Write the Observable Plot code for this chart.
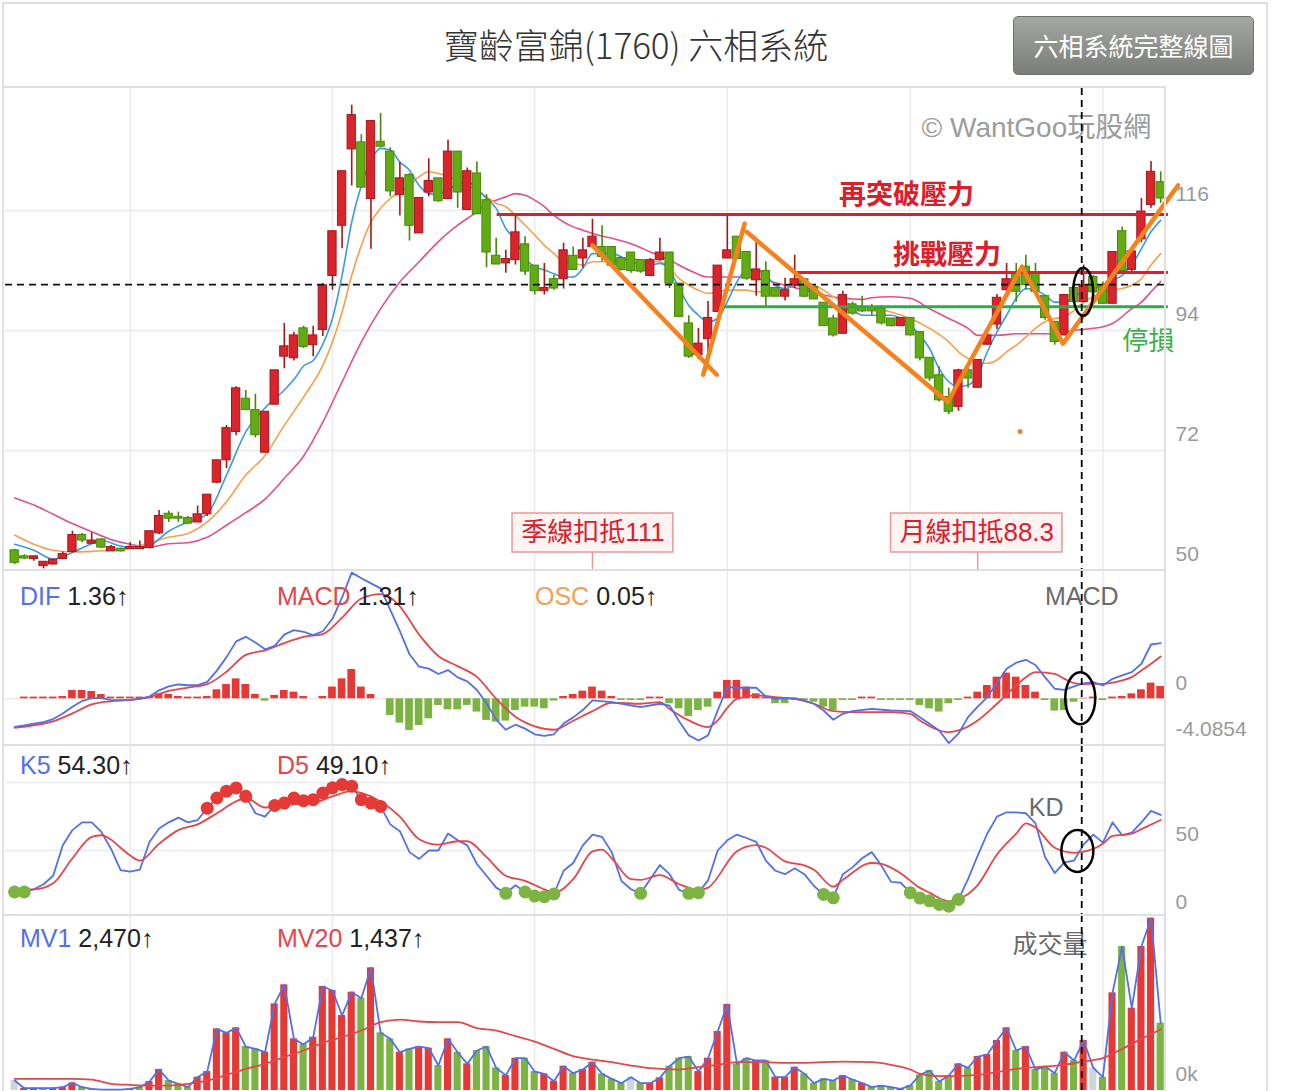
<!DOCTYPE html>
<html><head><meta charset="utf-8">
<script src="https://cdn.jsdelivr.net/npm/d3@7"></script>
<script src="https://cdn.jsdelivr.net/npm/@observablehq/plot@0.6"></script>
<style>
body{margin:0;background:#fff;font-family:"Liberation Sans","Noto Sans CJK TC",sans-serif;}
#wrap{position:relative;width:1304px;height:1091px;overflow:hidden;background:#fff;}
.panel{position:absolute;left:0;}
.ln{position:absolute;background:#e0e0e0;}
.hdr{position:absolute;font-size:25px;line-height:32px;color:#222;white-space:nowrap;}
#title{position:absolute;left:0;width:1272px;top:24px;line-height:40px;text-align:center;font-size:35px;color:#333;font-weight:300;font-family:"Noto Sans CJK TC","Liberation Sans",sans-serif;}
#btn{position:absolute;left:1013px;top:16px;width:239px;height:57px;line-height:57px;text-align:center;color:#fff;font-size:25px;border:1px solid #6f726d;border-radius:5px;background:linear-gradient(#a4a7a2,#7a7d78);font-family:"Noto Sans CJK TC",sans-serif;}
</style></head><body>
<div id="wrap">
  <div class="ln" style="left:2px;top:2px;width:1266px;height:2px"></div>
  <div class="ln" style="left:2px;top:2px;width:2px;height:1089px"></div>
  <div class="ln" style="left:1266px;top:2px;width:2px;height:1089px"></div>
  <div id="title">寶齡富錦(1760) 六相系統</div>
  <div id="btn">六相系統完整線圖</div>
  <div id="p1" class="panel" style="top:88px"></div>
  <div id="p2" class="panel" style="top:570px"></div>
  <div id="p3" class="panel" style="top:745px"></div>
  <div id="p4" class="panel" style="top:915px"></div>
  <div class="ln" style="left:3px;top:86px;width:1162px;height:2px"></div>
  <div class="ln" style="left:3px;top:569px;width:1162px;height:2px"></div>
  <div class="ln" style="left:3px;top:744px;width:1162px;height:2px"></div>
  <div class="ln" style="left:3px;top:914px;width:1162px;height:2px"></div>
  <div class="ln" style="left:1164px;top:86px;width:2px;height:1005px"></div>
  <div class="hdr" style="left:20px;top:580px"><span style="color:#5470e6">DIF</span> 1.36↑</div>
  <div class="hdr" style="left:277px;top:580px"><span style="color:#e3474b">MACD</span> 1.31↑</div>
  <div class="hdr" style="left:535px;top:580px"><span style="color:#f2a154">OSC</span> 0.05↑</div>
  <div class="hdr" style="left:20px;top:749px"><span style="color:#5470e6">K5</span> 54.30↑</div>
  <div class="hdr" style="left:277px;top:749px"><span style="color:#e3474b">D5</span> 49.10↑</div>
  <div class="hdr" style="left:20px;top:922px"><span style="color:#5470e6">MV1</span> 2,470↑</div>
  <div class="hdr" style="left:277px;top:922px"><span style="color:#e3474b">MV20</span> 1,437↑</div>
</div>
<script>
// ---------- data ----------
const open = [53.7,52.6,52.1,50.8,51.1,52.1,53.4,56.5,54.9,55.7,
 53.5,54.0,53.9,53.9,54.1,56.8,60.4,59.8,59.6,58.8,
 60.3,66.1,70.2,75.4,81.5,79.4,71.6,80.4,89.2,88.9,
 94.4,91.3,94.1,104.0,113.2,127.2,128.5,118.1,128.6,126.8,
 118.8,122.5,111.8,119.3,121.9,118.1,126.8,116.1,122.8,117.9,
 107.7,106.3,106.9,109.8,105.9,101.2,103.4,103.4,107.7,107.2,
 109.3,109.3,109.3,107.3,108.3,106.9,104.0,106.9,108.3,102.6,
 95.3,89.5,92.4,97.4,107.2,111.2,108.4,103.2,104.9,101.8,
 100.2,102.3,103.4,102.0,99.1,96.2,93.4,98.8,98.3,98.3,
 98.0,96.2,94.8,96.3,93.7,89.0,85.8,81.8,80.0,86.7,
 83.5,91.4,95.1,101.4,104.3,105.7,104.6,100.3,95.6,93.1,
 101.8,99.2,103.8,102.3,98.9,112.2,105.1,110.7,117.0,121.2];
const high = [53.9,52.9,52.6,51.6,52.0,53.4,57.2,56.8,56.9,55.8,
 54.6,54.1,55.1,55.4,57.2,61.0,60.9,60.7,59.9,61.8,
 63.9,70.2,76.6,83.7,83.0,82.3,79.1,86.7,95.3,93.7,
 94.8,94.8,102.6,112.2,123.2,135.3,129.9,132.4,133.8,127.5,
 124.8,122.8,118.3,125.5,121.9,128.9,126.8,123.8,124.9,118.9,
 110.9,108.7,114.9,111.2,105.9,106.3,104.1,110.0,109.3,110.9,
 114.4,113.2,109.3,107.5,108.3,106.9,107.2,110.9,108.3,102.6,
 96.7,94.4,99.3,105.9,115.4,111.2,108.4,110.1,106.6,101.8,
 103.6,107.8,103.4,102.0,99.1,96.8,101.2,99.2,100.3,98.8,
 98.6,96.2,96.3,96.3,93.7,89.0,87.3,83.4,86.9,87.0,
 88.6,93.9,100.6,106.3,106.3,107.8,106.3,100.3,95.6,100.5,
 102.3,106.0,104.1,102.9,108.4,113.0,109.3,118.2,125.0,123.1];
const low = [51.1,52.0,51.7,50.3,51.0,52.1,53.2,55.1,54.9,54.0,
 53.5,53.4,53.9,53.9,54.1,56.6,58.8,58.8,58.4,58.8,
 59.9,65.9,68.7,74.7,79.4,74.3,71.6,80.4,87.0,88.4,
 90.7,89.2,92.9,101.4,109.0,120.5,120.2,108.9,127.5,118.5,
 115.0,110.4,111.8,118.5,117.5,118.1,116.4,116.1,115.3,105.5,
 106.1,104.5,106.0,104.1,100.5,100.5,101.4,101.6,105.1,105.4,
 109.2,106.6,105.9,104.9,104.5,104.5,104.0,106.7,101.7,96.5,
 88.9,88.7,89.0,97.3,107.2,107.1,103.2,100.3,98.3,100.2,
 99.4,101.7,100.0,99.7,94.8,92.8,93.4,96.8,97.3,96.8,
 95.0,94.7,94.8,93.0,88.4,84.7,80.9,78.6,79.2,83.4,
 83.5,91.3,94.2,101.0,99.2,101.4,101.1,95.9,91.3,93.0,
 99.2,99.1,99.0,98.8,98.9,104.9,104.6,110.1,116.4,117.3];
const close = [51.4,52.2,52.6,51.6,52.0,53.0,56.5,55.5,55.5,54.2,
 54.3,53.5,54.3,54.3,57.2,60.0,59.5,59.5,58.6,60.3,
 63.9,70.2,76.1,83.4,79.4,74.8,79.1,86.7,91.1,93.1,
 91.0,93.1,102.3,112.2,123.2,133.5,120.2,132.4,127.7,119.5,
 121.9,113.2,118.3,121.4,117.7,126.8,119.3,123.2,115.3,108.3,
 106.1,107.1,112.0,104.8,101.2,101.8,101.7,108.7,105.1,108.7,
 111.2,107.5,105.9,105.1,104.9,104.8,106.9,108.3,102.6,96.5,
 89.2,91.6,96.3,105.9,108.7,107.1,103.5,105.2,100.2,100.2,
 101.4,103.4,100.2,99.7,94.8,93.1,100.5,97.1,97.5,97.5,
 95.3,94.8,96.3,93.1,88.9,85.2,81.2,79.1,86.7,85.2,
 88.6,93.1,100.0,103.4,101.1,102.3,101.1,96.3,91.9,100.5,
 99.2,102.3,101.0,98.9,108.4,104.9,108.5,115.8,123.1,118.2];

// moving averages read at sampled days: [day, value]
const ma5 = [[0,54.8],[2,53.7],[4,52.1],[6,53.3],[8,54.9],[9,55.5],[11,54.5],[13,54.1],[14,54.5],[16,57.2],[18,58.9],[20,60.4],[22,67.5],[24,75.4],[26,79.8],[28,83.1],[29,85.0],[30,87.5],[31,88.5],[32,91.5],[33,96.2],[34,104.1],[35,113.9],[36,120.6],[37,125.2],[38,127.4],[39,127.1],[40,124.9],[41,123.4],[42,120.6],[43,119.1],[44,118.9],[45,120.0],[46,120.6],[47,121.3],[48,120.0],[49,118.2],[50,116.4],[51,112.7],[52,110.6],[53,107.2],[54,105.7],[55,105.1],[56,104.4],[57,103.8],[58,103.8],[59,105.4],[60,108.1],[62,108.1],[64,106.6],[66,106.0],[67,106.3],[68,105.1],[69,101.7],[70,98.6],[71,96.8],[72,95.6],[73,96.2],[74,99.3],[75,102.9],[76,105.1],[77,105.1],[78,104.1],[79,102.3],[80,101.7],[81,102.3],[82,102.0],[83,101.1],[84,99.9],[85,98.3],[86,98.0],[87,97.7],[88,96.8],[89,96.8],[91,96.8],[93,95.0],[94,93.1],[95,90.7],[96,87.0],[97,84.6],[98,83.7],[99,84.0],[100,85.8],[101,90.1],[102,93.7],[103,96.8],[104,99.9],[105,101.7],[106,101.4],[107,100.5],[108,99.2],[109,99.2],[110,100.2],[111,101.1],[112,101.7],[113,102.3],[114,103.2],[115,104.1],[116,106.0],[117,109.0],[118,112.1],[119,114.2]];
const ma10 = [[0,56.5],[2,54.8],[4,53.7],[6,53.4],[8,53.5],[10,53.7],[12,54.1],[14,55.1],[16,56.1],[18,56.8],[20,58.9],[22,62.6],[24,67.5],[26,71.1],[28,76.6],[30,81.8],[32,87.6],[33,91.9],[34,97.4],[35,104.1],[36,109.6],[37,113.9],[38,116.4],[39,118.2],[40,119.4],[41,120.6],[42,122.2],[43,123.1],[44,122.8],[45,122.2],[46,121.6],[47,120.6],[48,119.7],[49,118.5],[50,117.3],[51,116.7],[52,115.1],[53,113.3],[54,111.5],[55,109.6],[56,108.1],[57,106.6],[58,106.3],[59,106.0],[60,106.6],[62,106.6],[64,107.2],[66,106.6],[67,106.6],[68,105.4],[69,103.5],[70,102.3],[71,101.4],[72,100.8],[73,101.1],[74,101.4],[75,101.4],[76,101.4],[77,101.1],[78,101.1],[79,100.8],[80,101.4],[81,102.3],[82,102.6],[83,102.3],[84,101.4],[85,100.2],[86,99.3],[87,98.6],[88,98.5],[89,98.2],[91,97.4],[93,96.2],[95,94.4],[97,91.9],[98,90.1],[99,88.9],[100,88.1],[101,88.0],[102,88.6],[103,90.1],[104,91.3],[105,92.8],[106,94.4],[107,95.6],[108,96.2],[109,96.5],[110,97.7],[111,99.2],[112,100.2],[113,101.1],[114,101.4],[115,101.7],[116,102.3],[117,103.5],[118,106.0],[119,108.1]];
const ma20 = [[0,63.3],[2,62.0],[4,60.3],[6,58.6],[8,57.1],[10,55.7],[12,54.8],[14,54.3],[16,54.9],[18,55.1],[20,56.1],[22,58.3],[24,60.6],[26,63.1],[28,66.9],[30,71.0],[32,77.2],[34,84.6],[36,91.9],[38,98.0],[40,102.9],[42,106.6],[44,110.3],[46,113.3],[48,115.8],[49,117.3],[50,117.9],[51,118.5],[52,119.1],[53,118.8],[54,117.9],[55,116.7],[56,115.1],[57,113.9],[58,113.0],[59,112.4],[60,111.8],[62,110.9],[64,109.9],[66,108.4],[68,106.9],[70,105.1],[72,103.8],[74,103.8],[76,103.8],[78,103.2],[80,102.3],[82,101.4],[84,100.5],[86,99.9],[88,99.7],[89,100.0],[91,100.2],[93,99.9],[95,98.0],[97,96.2],[99,94.4],[100,93.1],[102,93.1],[104,93.4],[106,93.4],[108,93.4],[110,94.0],[112,94.4],[113,94.7],[114,95.3],[116,98.0],[117,99.2],[118,101.1],[119,103.0]];

// MACD panel
const dif = [[0,-2.5],[1,-2.37],[2,-2.2],[3,-2.07],[4,-1.8],[5,-1.3],[6,-0.7],[7,-0.2],[8,0.05],[9,0.06],[10,-0.1],[11,-0.12],[12,-0.1],[13,0],[14,0.2],[15,0.75],[16,1.1],[17,1.27],[18,1.2],[19,1.22],[20,1.5],[21,2.5],[22,3.7],[23,5.1],[24,5.5],[25,5.0],[26,4.4],[27,4.7],[28,5.7],[29,6.1],[30,5.95],[31,5.65],[32,6.0],[33,7.1],[34,9.0],[35,11.2],[36,10.7],[37,10.25],[38,9.8],[39,7.9],[40,6.0],[41,3.95],[42,2.85],[43,2.68],[44,2.2],[45,2.55],[46,1.9],[47,1.55],[48,0.78],[49,-0.4],[50,-1.85],[51,-2.75],[52,-2.3],[53,-2.65],[54,-3.15],[55,-3.3],[56,-3.15],[57,-2.2],[58,-1.65],[59,-1.0],[60,-0.15],[62,-0.3],[65,-0.74],[67,-0.44],[68,-0.6],[69,-2.0],[70,-3.25],[71,-3.7],[72,-3.25],[73,-1.04],[74,1.03],[75,0.98],[77,0.98],[78,0.21],[79,0.0],[81,0.06],[82,-0.15],[83,-0.44],[84,-1.04],[85,-1.86],[86,-1.33],[87,-1.09],[89,-0.89],[91,-1.04],[93,-1.09],[94,-1.63],[96,-2.81],[97,-3.94],[98,-3.1],[99,-1.63],[100,-0.7],[101,0.15],[102,1.4],[103,2.66],[104,3.2],[105,3.46],[106,3.0],[107,1.9],[108,0.89],[109,0.8],[110,1.1],[111,1.36],[112,1.48],[113,1.18],[114,1.77],[115,2.07],[116,2.37],[117,3.11],[118,4.82],[119,4.94]];
const macd = [[0,-2.57],[2,-2.35],[4,-2.0],[6,-1.3],[8,-0.5],[10,-0.22],[12,-0.1],[14,0.15],[16,0.7],[18,1.0],[20,1.3],[22,2.4],[24,3.9],[26,4.3],[28,4.95],[30,5.5],[32,5.75],[34,7.2],[36,8.9],[38,9.3],[39,9.0],[40,8.2],[42,5.7],[44,3.8],[46,2.9],[48,1.95],[50,0.0],[52,-1.6],[54,-2.45],[56,-2.75],[58,-1.95],[60,-1.1],[62,-0.35],[65,-0.44],[67,-0.3],[68,-0.9],[70,-1.92],[72,-2.52],[73,-1.92],[74,-0.8],[75,0.0],[77,0.3],[79,0.15],[81,0.0],[83,-0.44],[85,-1.1],[87,-1.18],[91,-1.18],[93,-1.33],[94,-1.92],[97,-2.96],[98,-2.81],[100,-1.92],[102,-0.44],[104,1.18],[105,1.92],[106,2.37],[108,2.22],[109,1.77],[110,1.4],[111,1.31],[112,1.33],[113,1.33],[115,1.63],[116,1.92],[117,2.51],[118,3.11],[119,3.76]];
const osc = [0,0.15,0.15,0.15,0.15,0.2,0.74,0.74,0.65,0.38,
 0.15,0.15,0.15,0.15,0.15,0.44,0.38,0.2,0.15,0.15,
 0.2,0.8,1.27,1.77,1.27,0.38,-0.21,0.3,0.74,0.59,
 0.2,0,0.2,1.04,1.77,2.6,1.04,0.38,0,-1.48,
 -2.16,-2.81,-2.37,-1.78,-0.59,-0.98,-0.98,-0.59,-1.18,-1.92,
 -2.07,-1.98,-1.04,-0.74,-0.74,-0.89,-0.2,0.2,0.38,0.68,
 1.04,0.68,0.2,-0.15,-0.15,-0.15,0.15,0.15,-0.44,-0.89,
 -1.57,-1.04,-0.74,0.59,1.63,1.63,1.04,0.44,0.15,-0.44,
 -0.44,-0.15,-0.15,-0.3,-0.74,-1.04,-0.15,-0.15,0.15,0.15,
 -0.15,-0.15,-0.15,-0.15,-0.59,-0.89,-1.18,-0.44,-0.15,0.15,
 0.59,1.18,1.92,2.28,1.92,1.18,0.59,-0.15,-1.09,-1.04,
 -0.3,0.05,0.15,-0.15,0.15,0.2,0.44,0.8,1.39,1.09];

// KD panel
const kLine = [19.5,19.5,21.5,25.2,31.4,53.8,65,70.7,70.7,63.7,
 51.3,35.6,34.4,35.9,56.3,66.2,70.7,74.2,70.7,72.4,
 81.1,88.6,93.6,96,89.8,77.4,74.9,83.1,84.9,88.6,
 86.6,87.4,92.3,96.1,98.5,97.3,87.4,84.9,82.4,69.2,
 64.2,48.8,43.8,50,50,62.5,57.5,53.8,40.1,31.4,
 22.7,18.5,24.4,19.5,16.5,16,18,35.1,40.8,53.8,
 61.7,60,48.8,27.7,21.5,18.5,28.9,39.3,32.6,21,
 18.5,19,28,50,57.5,61.7,59.2,56.3,42.6,35.1,
 32.6,36.9,32.6,23.9,17.7,15.2,32.6,37.6,44.3,48.8,
 38.9,26.9,26.4,19,15,13,10.3,9,14,28.9,
 46.3,62.5,74.9,78.1,78.1,77.4,69.9,45.1,33.4,41.3,
 42.6,54.3,61.7,55.8,70.7,61.2,63.2,70.7,79.1,76.2];
const dLine = [[0,21.4],[2,21.4],[4,25.9],[6,44.3],[8,60],[9,61.2],[10,58],[11,52],[12,46.3],[13,42.6],[15,55],[17,65],[19,69.2],[21,77.4],[23,86.1],[24,88.6],[26,81.6],[28,83.6],[31,84.9],[33,89.8],[35,93.6],[36,92.3],[38,86.1],[40,74.9],[42,58.3],[44,54.3],[46,56.8],[47,56.8],[49,45.1],[51,31.4],[53,27.7],[55,21.4],[56,19],[58,28.9],[60,49.3],[61,50.6],[62,44.3],[64,28.9],[65,28.4],[67,31.9],[69,25.2],[71,21],[72,22.7],[75,49.5],[77,54],[78,52],[80,42],[82,39],[83,35.8],[85,23.4],[86,28.4],[89,40.8],[90,40.1],[92,33.3],[94,22.5],[95,19],[97,12.7],[98,14.2],[100,24.6],[102,47],[104,62.4],[105,70],[106,66.9],[108,52],[110,48.3],[111,49.1],[113,55],[114,60.7],[116,62.4],[117,65.7],[119,72.4]];

// Volume panel (lots)
const volume = [492,114,114,114,114,163,377,163,80,40,
 40,40,80,163,443,1036,492,328,163,657,
 937,3045,2848,3095,2172,2057,1892,4280,5219,2551,
 2271,2633,5137,4939,3704,4857,4561,6059,2848,2551,
 1892,2057,2172,2090,1234,2551,1892,1316,1975,2172,
 1118,739,1596,1596,937,822,459,1201,855,1036,
 1398,822,575,361,657,361,361,624,1201,1596,
 1678,937,1596,2913,4247,1316,1596,1481,1481,657,
 657,1151,822,361,575,492,739,542,361,163,
 245,163,80,245,772,987,443,739,1316,1118,
 1678,1777,2469,3095,1975,2172,1036,1184,855,1892,
 1481,2470,1118,657,4824,7113,4066,7113,8513,3325];
const volDir = ("nrrgrrrggg"+"rgrgrrgggr"+"rrrrggrrrr"+"grrrrrgrgg"+"rgrrgrgrgg"+
 "grrggrrrgr"+"rgggngrrgg"+"grrrrggrgr"+"rrggggrgrg"+"ggrgggggrg"+"rrrrgrgggr"+"grngrgrrrg").split("");
const mv20 = [[0,575],[3,575],[6,575],[8,542],[10,328],[12,278],[14,245],[16,245],[18,328],[20,492],[22,772],[24,1069],[26,1316],[28,1646],[30,1975],[32,2354],[34,2633],[36,2963],[38,3375],[40,3506],[42,3408],[44,3375],[46,3375],[48,3078],[50,2963],[52,2683],[54,2419],[56,2057],[58,1695],[60,1530],[62,1398],[64,1234],[66,1102],[69,1036],[71,1151],[73,1267],[75,1398],[78,1398],[80,1365],[82,1365],[84,1398],[86,1431],[89,1398],[91,1267],[93,1036],[94,822],[95,739],[97,706],[100,772],[102,904],[104,1069],[106,1151],[109,1267],[111,1437],[113,1596],[115,2057],[117,2551],[119,3013]];

// annotations
const gridDays = [12,33,54,74,93,113];
const cursorDay = 110.8;
const priceTicks = [116,94,72,50];
const refPrice = 102.4;
const levelPrice = [115.27,104.63,98.34];
const levelStart = [50.1,81.24,73.6];
const levelColor = ["#dc1f2e","#dc1f2e","#2eaa48"];
const zigSeg = [0,0,1,1,2,2,2,2,2];
const zigDay = [60.0,72.9,71.5,75.8,76.0,96.9,104.6,108.85,120.8];
const zigPrice = [109.6,85.9,85.9,113.6,112.1,80.9,105.7,91.6,120.6];
const labelText = ["再突破壓力","挑戰壓力","停損","© WantGoo玩股網"];
const labelDay = [92.6,96.8,117.7,106.1];
const labelPrice = [118.75,107.75,92.0,131.2];
const labelColor = ["#d9202c","#d9202c","#3db04b","#9c9c9c"];
const boxText = ["季線扣抵111","月線扣抵88.3"];
const boxDay = [60,100];
const boxFrom = [51.7,91.0];
const boxTo = [68.4,108.8];

// ---------- drawing ----------
const FONT = '"Liberation Sans","Noto Sans CJK TC","Noto Sans",sans-serif';
const RED = "#d9242b", RED_D = "#a3181d", GRN = "#62ab14", GRN_D = "#468806";
const BARR = "#e53935", BARG = "#7cb342", BARN = "#cfd6dc";
const GRID = "#ebebeb", AXC = "#999";
const days = d3.range(open.length);
const candles = days.map(i => ({i, o: open[i], h: high[i], l: low[i], c: close[i]}));
const P = d => d[0], V = d => d[1];

function panel(h, y, marks) {
  return Plot.plot({
    width: 1304, height: h, marginLeft: 5, marginRight: 139, marginTop: 0, marginBottom: 0,
    x: {domain: [-0.95, 119.5], range: [5, 1165], axis: null},
    y: {...y, axis: null},
    color: {type: "identity"},
    style: {fontFamily: FONT, overflow: "visible", background: "transparent"},
    marks
  });
}
function tickLabels(ticks, fmt) {
  return Plot.text(ticks, {x: () => 119.5, y: d => d, text: fmt, dx: 10, dy: -16, textAnchor: "start", fill: AXC, fontSize: 21});
}
function cursor() {
  return Plot.ruleX([cursorDay], {stroke: "#000", strokeWidth: 1.8, strokeDasharray: "7,5"});
}
function watermark(day, text, dy, font) {
  return Plot.text([{d: day, t: text}], {x: "d", text: "t", frameAnchor: "top", lineAnchor: "middle", dy, fill: "#6a6a6a", fontSize: 25, fontFamily: font || FONT});
}
function ellipse(svg, cx, cy, rx, ry) {
  const X = svg.scale("x").apply(cx), Y = svg.scale("y").apply(cy);
  d3.select(svg).append("ellipse").attr("cx", X).attr("cy", Y).attr("rx", rx).attr("ry", ry)
    .attr("fill", "none").attr("stroke", "#000").attr("stroke-width", 2.5);
}

// price panel
const levels = levelPrice.map((p, k) => ({p, s: levelStart[k], c: levelColor[k]}));
const zig = zigDay.map((d, k) => ({d, p: zigPrice[k], s: zigSeg[k]}));
const labels = labelText.map((t, k) => ({t, d: labelDay[k], p: labelPrice[k], c: labelColor[k]}));
const boxes = boxText.map((t, k) => ({t, d: boxDay[k], a: boxFrom[k], b: boxTo[k]}));
const p1 = panel(482, {domain: [50, 138.37], range: [482, 0]}, [
  Plot.ruleX(gridDays, {stroke: GRID, strokeWidth: 1.5}),
  Plot.ruleY(priceTicks.slice(0, 3), {stroke: GRID, strokeWidth: 1.5}),
  Plot.line(ma20, {x: P, y: V, stroke: "#e2508c", strokeWidth: 1.6, curve: "monotone-x"}),
  Plot.line(ma10, {x: P, y: V, stroke: "#f5a04c", strokeWidth: 1.6, curve: "monotone-x"}),
  Plot.line(ma5, {x: P, y: V, stroke: "#3b9be0", strokeWidth: 1.6, curve: "monotone-x"}),
  Plot.ruleX(candles, {x: "i", y1: "l", y2: "h", stroke: d => d.c >= d.o ? RED_D : GRN_D, strokeWidth: 1.6}),
  Plot.rect(candles, {x1: d => d.i - 0.43, x2: d => d.i + 0.43, y1: "o", y2: "c",
    fill: d => d.c >= d.o ? RED : GRN, stroke: d => d.c >= d.o ? RED_D : GRN_D, strokeWidth: 1}),
  Plot.ruleY([refPrice], {stroke: "#111", strokeWidth: 1.8, strokeDasharray: "7,5"}),
  Plot.ruleY(levels, {y: "p", x1: "s", x2: () => 119.8, stroke: "c", strokeWidth: 3}),
  Plot.line(zig, {x: "d", y: "p", z: "s", stroke: "#f5821f", strokeWidth: 4.5, strokeLinecap: "round", strokeLinejoin: "round"}),
  Plot.dot([{d: 104.4, p: 75.5}], {x: "d", y: "p", r: 2.5, fill: "#f5821f"}),
  Plot.text(labels.slice(0, 2), {x: "d", y: "p", text: "t", fill: "c", fontSize: 27, fontWeight: "bold", fontFamily: '"Noto Sans CJK TC",sans-serif'}),
  Plot.text(labels.slice(2, 3), {x: "d", y: "p", text: "t", fill: "c", fontSize: 26, fontFamily: '"Noto Sans CJK TC",sans-serif'}),
  Plot.text(labels.slice(3), {x: "d", y: "p", text: "t", fill: "c", fontSize: 28, fontFamily: FONT}),
  Plot.ruleX(boxes, {x: "d", y1: 50, y2: 53.3, stroke: "#e39a9c", strokeWidth: 1.5}),
  Plot.rect(boxes, {x1: "a", x2: "b", y1: 53.3, y2: 60.45, fill: "#fdf3f3", stroke: "#e39a9c", strokeWidth: 1.5}),
  Plot.text(boxes, {x: d => (d.a + d.b) / 2, y: 56.9, text: "t", fill: "#d9202c", fontSize: 26}),
  cursor(),
  tickLabels(priceTicks, d => String(d))
]);
document.getElementById("p1").append(p1);
ellipse(p1, 111, 101.0, 10, 24);

// MACD panel
const oscBars = days.map(i => ({i, v: osc[i]}));
const p2 = panel(175, {domain: [-4.0854, 11.39], range: [174.3, 0]}, [
  Plot.ruleX(gridDays, {stroke: GRID, strokeWidth: 1.5}),
  Plot.ruleY([0], {stroke: GRID, strokeWidth: 1.5}),
  Plot.rect(oscBars, {x1: d => d.i - 0.4, x2: d => d.i + 0.4, y1: 0, y2: "v", fill: d => d.v >= 0 ? BARR : BARG}),
  Plot.line(macd, {x: P, y: V, stroke: "#e3474b", strokeWidth: 1.8, curve: "monotone-x"}),
  Plot.line(dif, {x: P, y: V, stroke: "#5470e6", strokeWidth: 1.8}),
  watermark(110.8, "MACD", 26),
  cursor(),
  tickLabels([0, -4.0854], d => String(d))
]);
document.getElementById("p2").append(p2);
ellipse(p2, 110.7, 0, 15, 26);

// KD panel
const kd = days.map(i => ({i, k: kLine[i]}));
const p3 = panel(170, {domain: [0, 100], range: [173, 37]}, [
  Plot.ruleX(gridDays, {stroke: GRID, strokeWidth: 1.5}),
  Plot.ruleY([100, 50], {stroke: GRID, strokeWidth: 1.5}),
  Plot.line(kd, {x: "i", y: "k", stroke: "#5470e6", strokeWidth: 1.8}),
  Plot.line(dLine, {x: P, y: V, stroke: "#e3474b", strokeWidth: 1.8, curve: "monotone-x"}),
  Plot.dot(kd.filter(d => d.k > 80), {x: "i", y: "k", r: 6.5, fill: "#e53935"}),
  Plot.dot(kd.filter(d => d.k < 20), {x: "i", y: "k", r: 6.5, fill: "#7cb342"}),
  watermark(107.1, "KD", 62),
  cursor(),
  tickLabels([50, 0], d => String(d))
]);
document.getElementById("p3").append(p3);
ellipse(p3, 110.4, 49.3, 16, 21);

// Volume panel
const vols = days.map(i => ({i, v: volume[i], c: volDir[i]}));
const p4 = panel(176, {domain: [0, 8645], range: [175, 0]}, [
  Plot.ruleX(gridDays, {stroke: GRID, strokeWidth: 1.5}),
  Plot.rect(vols, {x1: d => d.i - 0.37, x2: d => d.i + 0.37, y1: 0, y2: "v",
    fill: d => d.c === "r" ? BARR : d.c === "g" ? BARG : BARN}),
  Plot.line(vols, {x: "i", y: "v", stroke: "#5470e6", strokeWidth: 1.8}),
  Plot.line(mv20, {x: P, y: V, stroke: "#e3474b", strokeWidth: 1.8, curve: "monotone-x"}),
  watermark(107.5, "成交量", 29, '"Noto Sans CJK TC",sans-serif'),
  cursor(),
  tickLabels([0], d => d + "k")
]);
document.getElementById("p4").append(p4);
</script>
</body></html>
